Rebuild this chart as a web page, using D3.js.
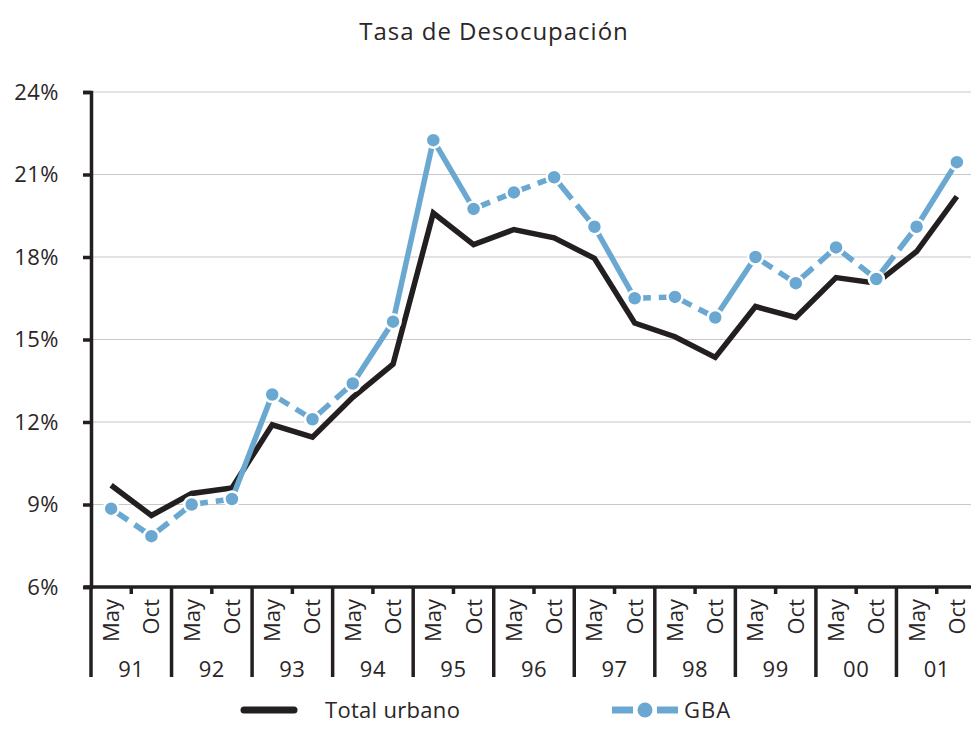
<!DOCTYPE html>
<html>
<head>
<meta charset="utf-8">
<script src="https://cdn.jsdelivr.net/npm/d3@7"></script>
<style>
  body { margin: 0; background: #fff; }
  text { font-family: 'Open Sans', sans-serif; fill: #2a2627; }
</style>
</head>
<body>
<script>
const w = 971;
const h = 747;

const years = ['91', '92', '93', '94', '95', '96', '97', '98', '99', '00', '01'];
const periods = ['May', 'Oct'];
const yTicks = [6, 9, 12, 15, 18, 21, 24];

const totalUrbano = [9.7, 8.6, 9.4, 9.6, 11.9, 11.45, 12.9, 14.1, 19.6, 18.45, 19.0, 18.7,
  17.95, 15.6, 15.1, 14.35, 16.2, 15.8, 17.25, 17.05, 18.2, 20.2];
const gba = [8.85, 7.85, 9.0, 9.2, 13.0, 12.1, 13.4, 15.65, 22.25, 19.75, 20.35, 20.9,
  19.1, 16.5, 16.55, 15.8, 18.0, 17.05, 18.35, 17.2, 19.1, 21.45];

const cats = [];
years.forEach(yr => periods.forEach(p => cats.push(p + ' ' + yr)));

const blue = '#6aa8d2';
const black = '#231f20';

const svg = d3.select('body')
  .append('svg')
  .attr('width', w)
  .attr('height', h);

const x = d3.scaleBand().domain(cats).range([91, 977]);
const y = d3.scaleLinear().domain([6, 24]).range([587, 92]);
const cx = d => x(d) + x.bandwidth() / 2;

// title
svg.append('text')
  .attr('x', 494)
  .attr('y', 40)
  .attr('text-anchor', 'middle')
  .style('font-size', '24px')
  .style('letter-spacing', '1px')
  .text('Tasa de Desocupación');

// gridlines
svg.selectAll('.grid')
  .data(yTicks.slice(1))
  .enter()
  .append('line')
  .attr('x1', 91)
  .attr('x2', w)
  .attr('y1', d => y(d))
  .attr('y2', d => y(d))
  .attr('stroke', '#c8c8c8')
  .attr('stroke-width', 1.2);

// y axis
const yAxis = svg.append('g')
  .attr('transform', 'translate(91,0)')
  .call(d3.axisLeft(y).tickValues(yTicks).tickFormat(d => d + '%').tickSize(8).tickPadding(24));
yAxis.select('.domain').attr('stroke', black).attr('stroke-width', 3.5);
yAxis.selectAll('.tick line').attr('stroke', black).attr('stroke-width', 3.5);
yAxis.selectAll('.tick text')
  .style('font-size', '22px')
  .style('font-family', "'Open Sans', sans-serif")
  .style('letter-spacing', '0.5px')
  .attr('fill', '#2a2627');

// x axis line
svg.append('line')
  .attr('x1', 84).attr('x2', w)
  .attr('y1', 587).attr('y2', 587)
  .attr('stroke', black).attr('stroke-width', 3.5);

// year dividers
svg.selectAll('.divider')
  .data(years.concat(['end']))
  .enter()
  .append('line')
  .attr('x1', d => d === 'end' ? x.range()[1] : x('May ' + d))
  .attr('x2', d => d === 'end' ? x.range()[1] : x('May ' + d))
  .attr('y1', 587)
  .attr('y2', 677)
  .attr('stroke', black)
  .attr('stroke-width', 3.5);

// short mid ticks
svg.selectAll('.midtick')
  .data(years)
  .enter()
  .append('line')
  .attr('x1', d => x('Oct ' + d))
  .attr('x2', d => x('Oct ' + d))
  .attr('y1', 587)
  .attr('y2', 594)
  .attr('stroke', black)
  .attr('stroke-width', 3.5);

// period labels
svg.selectAll('.plabel')
  .data(cats)
  .enter()
  .append('text')
  .attr('transform', d => 'translate(' + cx(d) + ',599) rotate(-90)')
  .attr('text-anchor', 'end')
  .attr('dy', '0.36em')
  .style('font-size', '22px')
  .text(d => d.split(' ')[0]);

// year labels
svg.selectAll('.ylabel')
  .data(years)
  .enter()
  .append('text')
  .attr('x', d => x('May ' + d) + x.bandwidth())
  .attr('y', 677)
  .attr('text-anchor', 'middle')
  .style('font-size', '22px')
  .style('letter-spacing', '0.5px')
  .text(d => d);

// total urbano line
const line = d3.line()
  .x((d, i) => cx(cats[i]))
  .y(d => y(d));

svg.append('path')
  .datum(totalUrbano)
  .attr('d', line)
  .attr('fill', 'none')
  .attr('stroke', black)
  .attr('stroke-width', 5.5)
  .attr('stroke-linejoin', 'miter');

// gba: each segment dashed on its own, one gap in the middle of short ones
const segs = d3.pairs(gba.map((v, i) => [cx(cats[i]), y(v)]));
svg.selectAll('.gseg')
  .data(segs)
  .enter()
  .append('line')
  .attr('x1', d => d[0][0]).attr('y1', d => d[0][1])
  .attr('x2', d => d[1][0]).attr('y2', d => d[1][1])
  .attr('stroke', blue)
  .attr('stroke-width', 5.5)
  .attr('stroke-dasharray', d => {
    const len = Math.hypot(d[1][0] - d[0][0], d[1][1] - d[0][1]);
    if (len > 66) return null;
    const half = (len - 8) / 2;
    return half + ',8,' + (len + 10);
  });

svg.selectAll('.gdot')
  .data(gba)
  .enter()
  .append('circle')
  .attr('cx', (d, i) => cx(cats[i]))
  .attr('cy', d => y(d))
  .attr('r', 7.5)
  .attr('fill', blue)
  .attr('stroke', '#fff')
  .attr('stroke-width', 2.5);

// legend
svg.append('line')
  .attr('x1', 244).attr('x2', 294)
  .attr('y1', 710).attr('y2', 710)
  .attr('stroke', black)
  .attr('stroke-width', 7)
  .attr('stroke-linecap', 'round');
svg.append('text')
  .attr('x', 325).attr('y', 718)
  .style('font-size', '22px')
  .style('letter-spacing', '0.3px')
  .text('Total urbano');

svg.append('line')
  .attr('x1', 612).attr('x2', 633)
  .attr('y1', 710).attr('y2', 710)
  .attr('stroke', blue).attr('stroke-width', 7);
svg.append('line')
  .attr('x1', 657).attr('x2', 678)
  .attr('y1', 710).attr('y2', 710)
  .attr('stroke', blue).attr('stroke-width', 7);
svg.append('circle')
  .attr('cx', 645).attr('cy', 710)
  .attr('r', 7.5)
  .attr('fill', blue);
svg.append('text')
  .attr('x', 684).attr('y', 718)
  .style('font-size', '22px')
  .style('letter-spacing', '1px')
  .text('GBA');
</script>
</body>
</html>
